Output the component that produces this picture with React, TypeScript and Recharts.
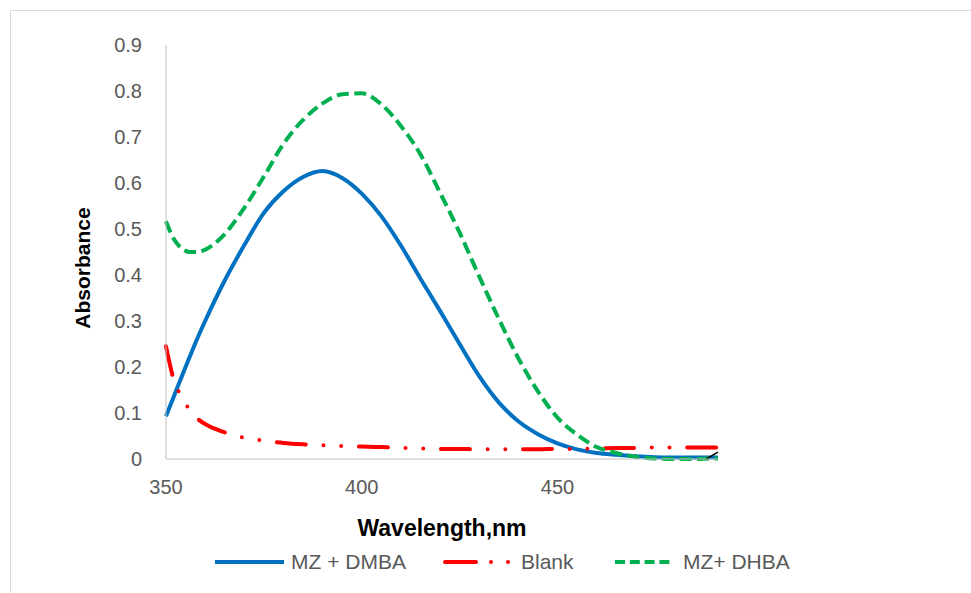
import { LineChart, Line, XAxis, YAxis } from 'recharts'

const WAVELENGTH = [
  350, 352, 354, 356, 358, 360, 365, 370, 375, 380, 385, 390, 395, 400, 405,
  410, 415, 420, 425, 430, 435, 440, 445, 450, 455, 460, 465, 470, 475, 480,
  485, 490, 491,
]

const MZ_DMBA = [
  0.093, 0.136, 0.179, 0.221, 0.262, 0.3, 0.388, 0.465, 0.535, 0.582, 0.613,
  0.626, 0.611, 0.577, 0.528, 0.464, 0.392, 0.322, 0.25, 0.18, 0.123, 0.082,
  0.054, 0.034, 0.021, 0.013, 0.009, 0.006, 0.004, 0.003, 0.003, 0.003, 0.003,
]

const BLANK = [
  0.245, 0.172, 0.135, 0.107, 0.088, 0.076, 0.058, 0.046, 0.04, 0.035, 0.032,
  0.03, 0.028, 0.027, 0.026, 0.024, 0.023, 0.022, 0.022, 0.021, 0.021, 0.021,
  0.021, 0.022, 0.022, 0.023, 0.024, 0.024, 0.025, 0.025, 0.025, 0.025, 0.025,
]

const MZ_DHBA = [
  0.517, 0.478, 0.458, 0.45, 0.45, 0.455, 0.489, 0.546, 0.614, 0.685, 0.737,
  0.773, 0.793, 0.795, 0.771, 0.724, 0.662, 0.579, 0.492, 0.397, 0.305, 0.219,
  0.147, 0.09, 0.053, 0.026, 0.013, 0.005, 0.001, 0.0, 0.0, 0.001, 0.001,
]

// short black stroke at the far right end of the plot
const EXTRA_X = [488, 491]
const EXTRA_Y = [0.0, 0.015]

const X_TICKS = [350, 400, 450]
const Y_TICKS = [0, 0.1, 0.2, 0.3, 0.4, 0.5, 0.6, 0.7, 0.8, 0.9]

const data = WAVELENGTH.map((w, i) => ({
  w,
  dmba: MZ_DMBA[i],
  blank: BLANK[i],
  dhba: MZ_DHBA[i],
}))

const extraData = EXTRA_X.map((w, i) => ({ w, extra: EXTRA_Y[i] }))

const FONT = '"Liberation Sans", Arial, sans-serif'
const tickStyle = { fill: '#595959', fontSize: 20, fontFamily: FONT }
const axisLine = { stroke: '#bfbfbf', strokeWidth: 1 }

const legendText = {
  position: 'absolute' as const,
  top: 549,
  fontSize: 21,
  color: '#595959',
  fontFamily: FONT,
  lineHeight: '26px',
}

export default function App() {
  return (
    <div style={{ position: 'absolute', left: 0, top: 0, width: 971, height: 593, background: '#fff', overflow: 'hidden' }}>
      <div
        style={{
          position: 'absolute',
          left: 10,
          top: 10,
          width: 980,
          height: 600,
          borderTop: '1px solid #d9d9d9',
          borderLeft: '1px solid #d9d9d9',
        }}
      />
      <div style={{ position: 'absolute', left: 0, top: 0 }}>
        <LineChart width={971} height={593} data={data} margin={{ top: 45, right: 253, bottom: 0, left: 0 }}>
          <XAxis
            dataKey="w"
            type="number"
            domain={[350, 491]}
            ticks={X_TICKS}
            height={134}
            tick={tickStyle}
            tickLine={false}
            tickSize={0}
            tickMargin={21}
            axisLine={axisLine}
            allowDuplicatedCategory={false}
            label={{
              content: () => (
                <text x={442} y={536} textAnchor="middle" fontFamily={FONT} fontWeight="bold" fontSize={23} fill="#000">
                  Wavelength,nm
                </text>
              ),
            }}
          />
          <YAxis
            type="number"
            domain={[0, 0.9]}
            ticks={Y_TICKS}
            width={166}
            tick={tickStyle}
            tickLine={false}
            tickSize={0}
            tickMargin={24}
            axisLine={axisLine}
            tickFormatter={(v: number) => String(v)}
            label={{
              content: () => (
                <text
                  x={90}
                  y={268}
                  transform="rotate(-90 90 268)"
                  textAnchor="middle"
                  fontFamily={FONT}
                  fontWeight="bold"
                  fontSize={21}
                  fill="#000"
                >
                  Absorbance
                </text>
              ),
            }}
          />
          <Line type="monotone" dataKey="dmba" name="MZ + DMBA" stroke="#0070C0" strokeWidth={4} dot={false} isAnimationActive={false} />
          <Line
            type="monotone"
            dataKey="blank"
            name="Blank"
            stroke="#FF0000"
            strokeWidth={4}
            strokeLinecap="round"
            strokeDasharray="29 17.7 0 17.7 0 17.7"
            dot={false}
            isAnimationActive={false}
          />
          <Line
            type="monotone"
            dataKey="dhba"
            name="MZ+ DHBA"
            stroke="#00B050"
            strokeWidth={4}
            strokeDasharray="12 5.5"
            dot={false}
            isAnimationActive={false}
          />
          <Line
            data={extraData}
            type="linear"
            dataKey="extra"
            stroke="#000"
            strokeWidth={1.5}
            dot={false}
            legendType="none"
            isAnimationActive={false}
          />
        </LineChart>
      </div>
      {/* legend */}
      <svg style={{ position: 'absolute', left: 0, top: 550 }} width={971} height={24}>
        <line x1={215} x2={284} y1={12} y2={12} stroke="#0070C0" strokeWidth={4} />
        <line x1={445} x2={476} y1={12} y2={12} stroke="#FF0000" strokeWidth={4} strokeLinecap="round" />
        <circle cx={491} cy={12} r={2} fill="#FF0000" />
        <circle cx={508} cy={12} r={2} fill="#FF0000" />
        <line x1={615} x2={670} y1={12} y2={12} stroke="#00B050" strokeWidth={4} strokeDasharray="10 4.8" />
      </svg>
      <span style={{ ...legendText, left: 291 }}>MZ + DMBA</span>
      <span style={{ ...legendText, left: 521 }}>Blank</span>
      <span style={{ ...legendText, left: 683 }}>MZ+ DHBA</span>
    </div>
  )
}
